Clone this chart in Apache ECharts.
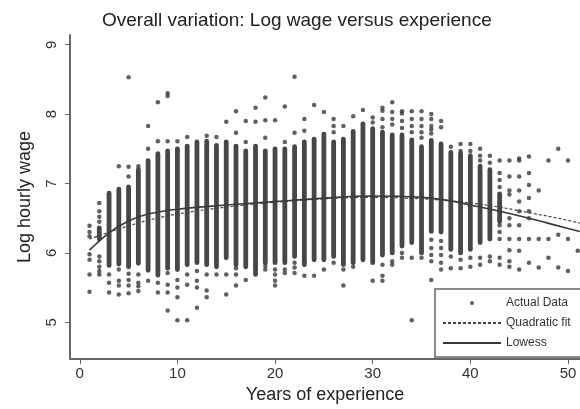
<!DOCTYPE html>
<html><head><meta charset="utf-8">
<script src="https://cdn.jsdelivr.net/npm/echarts@6/dist/echarts.min.js"></script>
<style>html,body{margin:0;padding:0;background:#fff}#chart{width:580px;height:409px}</style>
</head><body><div id="chart"></div>
<script>
// ---- data ----
const chartTitle = 'Overall variation: Log wage versus experience';
const xTicks = [0, 10, 20, 30, 40, 50];
const yTicks = [5, 6, 7, 8, 9];

// experience values with a dense band of observations (low / high of band)
const bandX    = [2,    3,    4,    5,    6,    7,    8,    9,    10,   11,   12,   13,   14,   15,   16,   17,   18,   19,   20,   21,   22,   23,   24,   25,   26,   27,   28,   29,   30,   31,   32,   33,   34,   35,   36,   37,   38,   39,   40,   41,   42,   43];
const bandLow  = [6.20, 5.82, 5.84, 5.80, 5.85, 5.75, 5.68, 5.78, 5.76, 5.83, 5.86, 5.83, 5.80, 5.93, 5.83, 5.80, 5.69, 5.86, 5.86, 5.86, 5.95, 5.83, 5.90, 5.90, 5.95, 5.83, 5.86, 5.90, 5.86, 5.97, 6.00, 6.10, 6.15, 6.00, 6.31, 6.30, 6.05, 6.00, 6.05, 6.15, 6.20, 6.45];
const bandHigh = [6.36, 6.86, 6.92, 6.95, 7.20, 7.33, 7.43, 7.47, 7.50, 7.54, 7.60, 7.61, 7.55, 7.60, 7.54, 7.47, 7.54, 7.47, 7.50, 7.50, 7.53, 7.60, 7.64, 7.71, 7.60, 7.64, 7.75, 7.86, 7.79, 7.74, 7.70, 7.70, 7.63, 7.53, 7.62, 7.57, 7.45, 7.43, 7.40, 7.25, 7.20, 6.85];

// individual observations outside the dense bands
const pointX = [
  1,1,1,1,1,1,1, 2,2,2,2,2,2,2,2,2, 3,3,3, 4,4,4,4,4, 5,5,5,5,5,5,5, 6,6,6,6,6, 7,7,7, 8,8,8,8,
  9,9,9,9,9,9,9, 10,10,10,10,10, 11,11,11,11, 12,12,12,12, 13,13,13,13, 14,14, 15,15,15,
  16,16,16,16,16, 17,17,17, 18,18, 19,19,19,19,19, 20,20,20,20,20, 21,21,21,21, 22,22,22,22,22,
  23,23,23, 24,24, 25,25, 26,26,26,26, 27,27,27, 28,28, 29, 30,30,30, 31,31,31,31,31,31,31,
  32,32,32,32,32,32, 33,33,33,33,33,33, 34,34,34,34,34,34, 35,35,35,35,35,35,
  36,36,36,36,36,36,36,36,36,36, 37,37,37,37,37,37,37, 38,38,38, 39,39,39,39, 40,40,40,40,
  41,41,41,41,41, 42,42,42,42, 43,43,43,43,43,43,43,43,43, 44,44,44,44,44,44,44,44,44,44,
  45,45,45,45,45,45,45,45,45,45, 46,46,46,46,46,46,46,46, 47,47,47, 48,48,48, 49,49,49, 50,50,50, 51
];
const pointY = [
  6.39,6.30,6.24,5.98,5.90,5.69,5.44, 6.72,6.60,6.52,6.45,5.95,5.88,5.80,5.74,5.69, 5.69,5.57,5.43, 7.25,5.76,5.60,5.53,5.40,
  8.53,7.24,7.10,5.70,5.61,5.53,5.42, 7.25,5.69,5.57,5.52,5.45, 7.83,7.50,5.60, 8.17,7.61,5.57,5.43,
  8.30,8.26,7.61,5.71,5.54,5.43,5.17, 7.61,5.61,5.50,5.36,5.03, 7.67,5.69,5.54,5.03, 5.74,5.60,5.50,5.21, 7.69,5.69,5.46,5.36, 7.67,5.69, 7.89,5.69,5.40,
  8.04,7.73,5.78,5.69,5.53, 7.90,7.60,5.61, 8.09,7.89, 8.24,7.91,7.66,5.81,5.76, 7.91,5.76,5.69,5.60,5.53, 8.11,7.60,5.76,5.71, 8.54,7.73,5.86,5.79,5.71,
  7.93,7.76,5.67, 8.13,5.67, 8.03,5.76, 7.93,7.83,7.74,5.86, 7.83,5.76,5.53, 7.97,5.80, 8.06, 7.95,7.88,5.60, 8.09,8.05,7.93,7.81,5.83,5.67,5.60,
  8.17,8.03,7.93,7.85,5.88,5.83, 8.04,8.01,7.90,7.80,6.00,5.93, 8.04,7.93,7.83,7.74,5.93,5.03, 8.04,7.93,7.83,7.74,7.66,5.93,
  8.00,7.93,7.83,7.78,7.72,6.19,6.07,5.97,5.88,5.61, 7.90,7.81,6.17,6.07,5.97,5.86,5.76, 7.53,5.95,5.78, 7.57,7.47,5.90,5.78, 7.57,7.47,5.93,5.80,
  7.50,7.40,7.33,5.93,5.83, 7.40,7.30,5.95,5.88, 7.33,7.15,7.05,6.95,6.40,6.30,6.20,5.93,5.83, 7.33,7.10,6.90,6.84,6.50,6.40,6.20,6.04,5.88,5.80,
  7.36,7.33,7.10,6.90,6.74,6.60,6.40,6.20,6.03,5.76, 7.39,7.15,6.98,6.79,6.60,6.50,6.20,5.86, 6.90,6.20,5.79, 7.33,6.20,5.93, 7.50,6.26,5.79, 7.33,6.20,5.74, 6.03
];

// fitted curves read at these experience values
const fitX      = [1,    3,    5,    7,    10,   15,   20,   25,   30,   35,   38,   40,   43,   46,   49,   51.2];
const lowessY   = [6.04, 6.29, 6.46, 6.56, 6.63, 6.69, 6.74, 6.79, 6.82, 6.80, 6.75, 6.69, 6.60, 6.50, 6.39, 6.31];
const quadY     = [6.20, 6.30, 6.39, 6.47, 6.56, 6.66, 6.73, 6.78, 6.80, 6.78, 6.75, 6.72, 6.66, 6.58, 6.50, 6.43];

// ---- build series data ----
const bandData = bandX.map((x, i) => [x, bandLow[i], bandHigh[i]]);
const pointData = pointX.map((x, i) => [x, pointY[i]]);
const lowessData = fitX.map((x, i) => [x, lowessY[i]]);
const quadData = fitX.map((x, i) => [x, quadY[i]]);

const FONT = '"Liberation Sans", Arial, Helvetica, sans-serif';
const noDot = {color: 'rgba(0,0,0,0)', borderWidth: 0};
const chart = echarts.init(document.getElementById('chart'), null, {renderer: 'canvas'});
chart.setOption({
  animation: false,
  backgroundColor: '#fff',
  title: {
    text: chartTitle, left: 97, top: 6,
    textStyle: {fontFamily: FONT, fontSize: 19, fontWeight: 'normal', color: '#222'}
  },
  grid: {left: 70, right: 0, top: 35, bottom: 47, containLabel: false},
  xAxis: {
    type: 'value', min: -1, max: 51.23,
    name: 'Years of experience', nameLocation: 'middle', nameGap: 25,
    nameTextStyle: {fontFamily: FONT, fontSize: 18, color: '#222'},
    axisLine: {show: true, onZero: false, lineStyle: {color: '#666', width: 2}},
    axisTick: {show: true, length: 5, customValues: xTicks, lineStyle: {color: '#666'}},
    axisLabel: {customValues: xTicks, fontFamily: FONT, fontSize: 15, color: '#333', margin: 7},
    splitLine: {show: false}
  },
  yAxis: {
    type: 'value', min: 4.47, max: 9.14,
    name: 'Log hourly wage', nameLocation: 'middle', nameGap: 36,
    nameTextStyle: {fontFamily: FONT, fontSize: 18, color: '#222'},
    axisLine: {show: true, onZero: false, lineStyle: {color: '#666', width: 2}},
    axisTick: {show: true, length: 5, customValues: yTicks, lineStyle: {color: '#666'}},
    axisLabel: {customValues: yTicks, rotate: 90, fontFamily: FONT, fontSize: 15, color: '#333', margin: 11},
    splitLine: {show: false}
  },
  legend: {
    orient: 'vertical', left: 435, top: 289,
    padding: [8, 22, 8, 7], itemGap: 8, itemWidth: 58, itemHeight: 4,
    borderColor: '#666', borderWidth: 1.5, backgroundColor: '#fff',
    textStyle: {fontFamily: FONT, fontSize: 12, color: '#333'},
    data: [
      {name: 'Actual Data', icon: 'circle'},
      {name: 'Quadratic fit', itemStyle: noDot},
      {name: 'Lowess', itemStyle: noDot}
    ]
  },
  series: [
    {
      name: 'Actual Data', type: 'scatter', data: pointData,
      symbolSize: 4.5, itemStyle: {color: '#3a3a3a'}, z: 3
    },
    {
      name: 'Actual Data', type: 'custom', data: bandData,
      encode: {x: 0, y: [1, 2]},
      renderItem: function (params, api) {
        const top = api.coord([api.value(0), api.value(2)]);
        const bot = api.coord([api.value(0), api.value(1)]);
        return {
          type: 'rect',
          shape: {x: top[0] - 2.4, y: top[1] - 2.4, width: 4.8, height: bot[1] - top[1] + 4.8, r: 2.4},
          style: {fill: '#474747'}
        };
      },
      z: 2
    },
    {
      name: 'Quadratic fit', type: 'line', data: quadData, smooth: 0.4,
      symbol: 'none', itemStyle: {color: '#444'},
      lineStyle: {color: '#444', width: 1.2, type: [3, 2]}, z: 4
    },
    {
      name: 'Lowess', type: 'line', data: lowessData, smooth: 0.4,
      symbol: 'none', itemStyle: {color: '#3a3a3a'},
      lineStyle: {color: '#3a3a3a', width: 1.6}, z: 5
    }
  ]
});
</script>
</body></html>
